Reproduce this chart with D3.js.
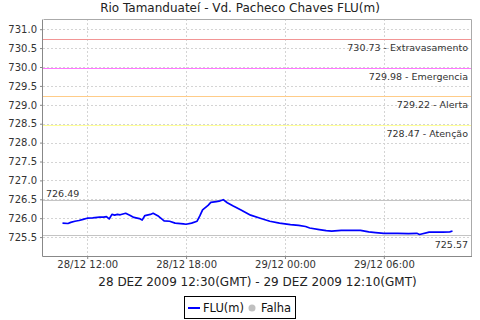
<!DOCTYPE html>
<html>
<head>
<meta charset="utf-8">
<script src="https://cdn.jsdelivr.net/npm/d3@7"></script>
<style>
  body { margin: 0; background: #fff; }
  text { font-family: "DejaVu Sans", sans-serif; }
</style>
</head>
<body>
<div id="chart"></div>
<script>
// Series FLU(m), local time (GMT-2)
const times = [
    "2009-12-28 10:30", "2009-12-28 10:50", "2009-12-28 11:00", "2009-12-28 11:15", "2009-12-28 11:30",
    "2009-12-28 11:45", "2009-12-28 12:00", "2009-12-28 12:20", "2009-12-28 12:45", "2009-12-28 13:00",
    "2009-12-28 13:10", "2009-12-28 13:20", "2009-12-28 13:30", "2009-12-28 13:40", "2009-12-28 13:50",
    "2009-12-28 14:00", "2009-12-28 14:20", "2009-12-28 14:35", "2009-12-28 14:50", "2009-12-28 15:10",
    "2009-12-28 15:20", "2009-12-28 15:30", "2009-12-28 15:50", "2009-12-28 16:00", "2009-12-28 16:20",
    "2009-12-28 16:40", "2009-12-28 17:00", "2009-12-28 17:20", "2009-12-28 17:50", "2009-12-28 18:00",
    "2009-12-28 18:20", "2009-12-28 18:40", "2009-12-28 18:50", "2009-12-28 19:00", "2009-12-28 19:20",
    "2009-12-28 19:30", "2009-12-28 19:50", "2009-12-28 20:00", "2009-12-28 20:15", "2009-12-28 20:30",
    "2009-12-28 20:50", "2009-12-28 21:20", "2009-12-28 21:55", "2009-12-28 22:30", "2009-12-28 23:05",
    "2009-12-28 23:40", "2009-12-29 00:20", "2009-12-29 00:50", "2009-12-29 01:15", "2009-12-29 01:30",
    "2009-12-29 02:05", "2009-12-29 02:30", "2009-12-29 02:50", "2009-12-29 03:25", "2009-12-29 04:35",
    "2009-12-29 05:05", "2009-12-29 05:30", "2009-12-29 06:00", "2009-12-29 06:50", "2009-12-29 07:30",
    "2009-12-29 08:00", "2009-12-29 08:10", "2009-12-29 08:45", "2009-12-29 09:35", "2009-12-29 10:00",
    "2009-12-29 10:10"
];
const levels = [
    725.87, 725.86, 725.89, 725.92, 725.94,
    725.97, 726.00, 726.01, 726.03, 726.03,
    726.04, 725.98, 726.10, 726.08, 726.10,
    726.09, 726.13, 726.08, 726.02, 725.99,
    725.95, 726.07, 726.10, 726.13, 726.05,
    725.93, 725.92, 725.87, 725.85, 725.84,
    725.87, 725.92, 726.06, 726.22, 726.34,
    726.42, 726.44, 726.45, 726.49, 726.41,
    726.33, 726.22, 726.08, 726.00, 725.92,
    725.87, 725.83, 725.81, 725.78, 725.74,
    725.70, 725.67, 725.66, 725.68, 725.68,
    725.64, 725.62, 725.60, 725.60, 725.59,
    725.60, 725.57, 725.63, 725.63, 725.64,
    725.66
];

// Reference levels
const refValues = [730.73, 729.98, 729.22, 728.47];
const refNames = ["Extravasamento", "Emergencia", "Alerta", "Atenção"];
const refColors = ["#f29595", "#ff77ff", "#ffcc88", "#ffff99"];

const yDomain = [725.0, 731.27];
const yTicks = d3.range(725.5, 731.01, 0.5);
const xTicks = ["2009-12-28 12:00", "2009-12-28 18:00", "2009-12-29 00:00", "2009-12-29 06:00"];

const width = 480, height = 320;
const margin = { top: 19, right: 8, bottom: 64, left: 43 };
const plotW = width - margin.left - margin.right;
const plotH = height - margin.top - margin.bottom;

const parse = d3.utcParse("%Y-%m-%d %H:%M");
const data = times.map((t, i) => ({ t: parse(t), v: levels[i] }));

const svg = d3.select("#chart")
    .append("svg")
    .attr("width", width)
    .attr("height", height);

// Title
svg.append("text")
    .attr("x", width / 2)
    .attr("y", 12)
    .attr("text-anchor", "middle")
    .attr("font-size", 12)
    .attr("fill", "#222")
    .text("Rio Tamanduateí - Vd. Pacheco Chaves FLU(m)");

const g = svg.append("g")
    .attr("transform", `translate(${margin.left},${margin.top})`);

// Time scale with 5% margin on each side
const ext = d3.extent(data, d => d.t);
const span = ext[1] - ext[0];
const x = d3.scaleUtc()
    .domain([new Date(+ext[0] - span * 0.05), new Date(+ext[1] + span * 0.05)])
    .range([0, plotW]);

const y = d3.scaleLinear()
    .domain(yDomain)
    .range([plotH, 0]);

g.append("rect")
    .attr("width", plotW)
    .attr("height", plotH)
    .attr("fill", "#fff");

// Grid
g.append("g")
    .selectAll("line")
    .data(yTicks)
    .enter()
    .append("line")
    .attr("x1", 0)
    .attr("x2", plotW)
    .attr("y1", d => Math.round(y(d)) + 0.5)
    .attr("y2", d => Math.round(y(d)) + 0.5)
    .attr("stroke", "#d4d4d4")
    .attr("stroke-dasharray", "2,2");

g.append("g")
    .selectAll("line")
    .data(xTicks.map(parse))
    .enter()
    .append("line")
    .attr("x1", d => Math.round(x(d)) + 0.5)
    .attr("x2", d => Math.round(x(d)) + 0.5)
    .attr("y1", 0)
    .attr("y2", plotH)
    .attr("stroke", "#d4d4d4")
    .attr("stroke-dasharray", "2,2");

// Reference lines and labels
refValues.forEach((v, i) => {
    const yy = Math.round(y(v)) + 0.5;
    g.append("line")
        .attr("x1", 0).attr("x2", plotW)
        .attr("y1", yy).attr("y2", yy)
        .attr("stroke", refColors[i])
        .attr("stroke-width", 1.2);
    g.append("text")
        .attr("x", plotW - 4)
        .attr("y", yy + 11.5)
        .attr("text-anchor", "end")
        .attr("font-size", 9.5)
        .attr("fill", "#333")
        .text(`${v.toFixed(2)} - ${refNames[i]}`);
});

// Max / min markers
const maxV = d3.max(levels), minV = d3.min(levels);
const yMax = Math.round(y(maxV)) + 0.5;
const yMin = Math.round(y(minV)) + 1.5;
g.append("line")
    .attr("x1", 0).attr("x2", plotW)
    .attr("y1", yMax).attr("y2", yMax)
    .attr("stroke", "#c4c4c4");
g.append("text")
    .attr("x", 3)
    .attr("y", yMax - 4)
    .attr("font-size", 9.5)
    .attr("fill", "#333")
    .text(maxV.toFixed(2));
g.append("line")
    .attr("x1", 0).attr("x2", plotW)
    .attr("y1", yMin).attr("y2", yMin)
    .attr("stroke", "#c4c4c4");
g.append("text")
    .attr("x", plotW - 4)
    .attr("y", yMin + 12)
    .attr("text-anchor", "end")
    .attr("font-size", 9.5)
    .attr("fill", "#333")
    .text(minV.toFixed(2));

// Series line
const line = d3.line()
    .x(d => x(d.t))
    .y(d => y(d.v));

g.append("path")
    .datum(data)
    .attr("d", line)
    .attr("fill", "none")
    .attr("stroke", "#0000ff")
    .attr("stroke-width", 1.7)
    .attr("stroke-linejoin", "round");

// Border (top / right)
g.append("path")
    .attr("d", `M0.5,0.5H${plotW - 0.5}V${plotH}`)
    .attr("fill", "none")
    .attr("stroke", "#aaa");

// Axes
const yAxis = g.append("g")
    .call(d3.axisLeft(y).tickValues(yTicks).tickFormat(d3.format(".1f")).tickSize(3).tickPadding(3));
const xAxis = g.append("g")
    .attr("transform", `translate(0,${plotH})`)
    .call(d3.axisBottom(x).tickValues(xTicks.map(parse)).tickFormat(d3.utcFormat("%d/%m %H:%M")).tickSize(3).tickPadding(2));

[yAxis, xAxis].forEach(a => {
    a.select(".domain").attr("stroke", "#888");
    a.selectAll(".tick line").attr("stroke", "#888");
    a.selectAll(".tick text")
        .attr("font-family", "DejaVu Sans, sans-serif")
        .attr("font-size", 10)
        .attr("fill", "#333");
});
yAxis.select(".domain").attr("d", `M-0.5,0.5V${plotH + 0.5}`);
xAxis.select(".domain").attr("d", `M-0.5,0.5H${plotW}`);

// Axis label
svg.append("text")
    .attr("x", margin.left + plotW / 2)
    .attr("y", 286)
    .attr("text-anchor", "middle")
    .attr("font-size", 12)
    .attr("fill", "#222")
    .text("28 DEZ 2009 12:30(GMT) - 29 DEZ 2009 12:10(GMT)");

// Legend
const legend = svg.append("g");
legend.append("rect")
    .attr("x", 184.5).attr("y", 296.5)
    .attr("width", 111).attr("height", 22)
    .attr("fill", "#fff")
    .attr("stroke", "#000");
legend.append("line")
    .attr("x1", 188).attr("x2", 200)
    .attr("y1", 308).attr("y2", 308)
    .attr("stroke", "#0000ff")
    .attr("stroke-width", 2);
legend.append("text")
    .attr("x", 203).attr("y", 312)
    .attr("font-size", 11.5)
    .attr("fill", "#111")
    .text("FLU(m)");
legend.append("circle")
    .attr("cx", 252).attr("cy", 308)
    .attr("r", 3.5)
    .attr("fill", "#c0c0c0");
legend.append("text")
    .attr("x", 261).attr("y", 312)
    .attr("font-size", 11.5)
    .attr("fill", "#111")
    .text("Falha");
</script>
</body>
</html>
